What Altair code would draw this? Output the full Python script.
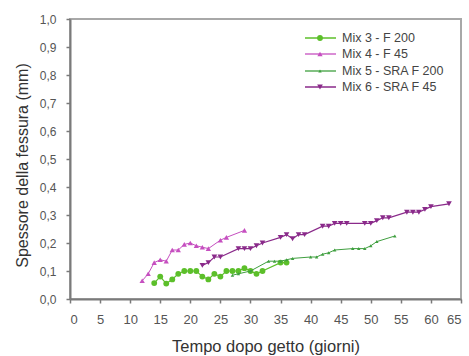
import altair as alt
import pandas as pd

# ---- data ----
mix3_x = [14, 15, 16, 17, 18, 19, 20, 21, 22, 23, 24, 25, 26, 27, 28, 29, 30, 31, 32, 35, 36]
mix3_y = [0.057, 0.08, 0.055, 0.07, 0.09, 0.10, 0.10, 0.10, 0.08, 0.07, 0.09, 0.08, 0.10, 0.10, 0.10, 0.11, 0.10, 0.09, 0.10, 0.13, 0.13]

mix4_x = [12, 13, 14, 15, 16, 17, 18, 19, 20, 21, 22, 23, 25, 26, 29]
mix4_y = [0.065, 0.09, 0.13, 0.14, 0.135, 0.175, 0.175, 0.195, 0.20, 0.19, 0.185, 0.18, 0.21, 0.22, 0.245]

mix5_x = [27, 28, 30, 33, 34, 35, 36, 37, 40, 41, 42, 43, 44, 47, 48, 49, 50, 51, 54]
mix5_y = [0.085, 0.09, 0.10, 0.135, 0.135, 0.135, 0.14, 0.145, 0.15, 0.15, 0.16, 0.165, 0.175, 0.18, 0.18, 0.18, 0.19, 0.205, 0.225]

mix6_x = [22, 23, 24, 25, 28, 29, 30, 31, 32, 35, 36, 37, 38, 39, 42, 43, 44, 45, 46, 49, 50, 51, 52, 53, 56, 57, 58, 59, 60, 63]
mix6_y = [0.12, 0.13, 0.15, 0.15, 0.18, 0.18, 0.18, 0.19, 0.20, 0.22, 0.23, 0.215, 0.23, 0.23, 0.26, 0.26, 0.27, 0.27, 0.27, 0.27, 0.27, 0.28, 0.29, 0.29, 0.31, 0.31, 0.31, 0.32, 0.33, 0.34]

names = ["Mix 3 - F 200", "Mix 4 - F 45", "Mix 5 - SRA F 200", "Mix 6 - SRA F 45"]
colors = ["#5cbf2a", "#c64fc0", "#3f9f3f", "#8a2a8a"]
shapes = ["circle", "triangle-up", "triangle-up", "triangle-down"]
sizes = [34, 28, 12, 32]
widths = [1.2, 1.0, 1.0, 1.2]

series = [(mix3_x, mix3_y), (mix4_x, mix4_y), (mix5_x, mix5_y), (mix6_x, mix6_y)]

x_scale = alt.Scale(domain=[0, 65], nice=False, zero=True)
y_scale = alt.Scale(domain=[0, 1.0], nice=False)

x_axis = alt.Axis(values=list(range(0, 66, 5)), title="Tempo dopo getto (giorni)",
                  grid=False, tickSize=4, labelPadding=10, titlePadding=12,
                  labelFontSize=13, titleFontSize=16.5)
y_axis = alt.Axis(values=[i / 10 for i in range(11)], title="Spessore della fessura (mm)",
                  grid=False, tickSize=4, labelPadding=10, titlePadding=9,
                  labelFontSize=12, titleFontSize=16, titleY=146,
                  labelExpr="replace(format(datum.value, '.1f'), '.', ',')")

layers = []
for (xs, ys), name, col, shp, sz, w in zip(series, names, colors, shapes, sizes, widths):
    df = pd.DataFrame({"t": xs, "v": ys, "s": name})
    base = alt.Chart(df).encode(
        x=alt.X("t:Q", scale=x_scale, axis=x_axis),
        y=alt.Y("v:Q", scale=y_scale, axis=y_axis),
    )
    layers.append(base.mark_line(color=col, strokeWidth=w))
    layers.append(base.mark_point(color=col, shape=shp, size=sz, filled=True, opacity=1))

# manual legend (inside the plot, top right)
leg_y = [19, 35, 52, 68]
for name, col, shp, sz, w, ly in zip(names, colors, shapes, sizes, widths, leg_y):
    d = pd.DataFrame({"label": [name]})
    layers.append(alt.Chart(d).mark_rule(color=col, strokeWidth=w + 0.3).encode(
        x=alt.value(235), x2=alt.value(266), y=alt.value(ly)))
    layers.append(alt.Chart(d).mark_point(color=col, shape=shp, size=sz, filled=True, opacity=1).encode(
        x=alt.value(250), y=alt.value(ly)))
    layers.append(alt.Chart(d).mark_text(align="left", baseline="middle", fontSize=12.5,
                                         font="Liberation Sans", color="#444444").encode(
        x=alt.value(272), y=alt.value(ly), text="label:N"))

chart = alt.layer(*layers).properties(
    width=391, height=280,
    autosize=alt.AutoSizeParams(type="none"),
    padding={"left": 70, "top": 19, "right": 8, "bottom": 57},
).configure_view(
    stroke="#a8a8a8", strokeWidth=2
).configure_axis(
    domainColor="#7a7a7a", domainWidth=2, tickColor="#7a7a7a", tickWidth=1.5,
    labelFont="Liberation Sans", labelColor="#555555",
    titleFont="Liberation Sans", titleColor="#333333", titleFontWeight="normal",
)

chart.save("out.html", embed_options={"renderer": "svg", "actions": False})
